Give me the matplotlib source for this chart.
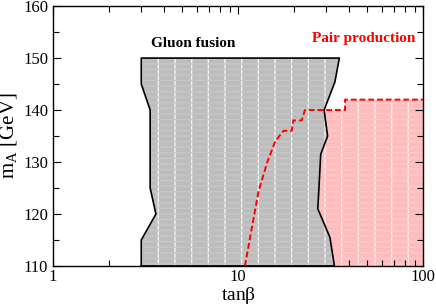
import matplotlib
matplotlib.use("Agg")
from matplotlib import pyplot as plt
from matplotlib.ticker import LogLocator, NullFormatter, MultipleLocator, FixedLocator, FixedFormatter

plt.rcParams['font.family'] = ['Liberation Serif', 'DejaVu Serif']
plt.rcParams['hatch.linewidth'] = 1.0

# gluon fusion region (left and right edges, bottom to top / top to bottom)
gluon_left_tb = [3.0, 3.0, 3.6, 3.35, 3.35, 3.0, 3.0]
gluon_left_m = [110, 115, 120, 125, 140, 145, 150]
gluon_right_tb = [35.3, 33.4, 29.2, 30.5, 28.0, 27.0, 31.4, 33.2]
gluon_right_m = [150, 145.4, 140, 135, 131.5, 121, 115.5, 110]

# pair production boundary (dashed)
pair_tb = [10.9, 12.9, 14.4, 15.9, 17.6, 19.5, 19.9, 22.1, 23.0, 37.9, 37.9, 100]
pair_m = [110, 124.3, 130, 134, 136, 136, 138, 138, 140, 140, 142, 142]

xticks = [1, 10, 100]
xticklabels = ['1', '10', '100']

fig = plt.figure(figsize=(4.36, 3.05), dpi=100)
ax = fig.add_axes([0.1216, 0.128, 0.8486, 0.852])

# pair production area (under the gluon one)
px = pair_tb + [100, pair_tb[0]]
py = pair_m + [110, 110]
ax.fill(px, py, facecolor='#ffbcbc', edgecolor='#fff0f0', hatch='|', linewidth=0, zorder=1)
ax.fill(px, py, facecolor='none', edgecolor='#ffc8c8', hatch='---', linewidth=0, zorder=1)

# gluon fusion area
gx = gluon_left_tb + gluon_right_tb
gy = gluon_left_m + gluon_right_m
ax.fill(gx, gy, facecolor='#bdbdbd', edgecolor='#f4f4f4', hatch='|', linewidth=0, zorder=2)
ax.fill(gx, gy, facecolor='none', edgecolor='#c7c7c7', hatch='---', linewidth=0, zorder=2)
ax.plot(gx + [gx[0]], gy + [gy[0]], color='black', lw=1.2, zorder=3)

ax.plot(pair_tb, pair_m, color='red', lw=1.4, dashes=(3, 1.5), zorder=4)

ax.text(5.75, 152.8, 'Gluon fusion', fontsize=11, fontweight='bold', color='black',
        ha='center', va='center')
ax.text(48, 153.8, 'Pair production', fontsize=11, fontweight='bold', color='red',
        ha='center', va='center')

ax.set_xscale('log')
ax.set_xlim(1, 100)
ax.set_ylim(110, 160)
ax.xaxis.set_major_locator(FixedLocator(xticks))
ax.xaxis.set_major_formatter(FixedFormatter(xticklabels))
ax.xaxis.set_minor_locator(LogLocator(base=10, subs=range(2, 10)))
ax.xaxis.set_minor_formatter(NullFormatter())
ax.yaxis.set_major_locator(MultipleLocator(10))
ax.yaxis.set_minor_locator(MultipleLocator(5))
ax.tick_params(which='both', direction='in', top=True, right=True, labelsize=12, width=0.8, zorder=5)
ax.tick_params(which='major', length=6)
ax.tick_params(which='minor', length=4.5)
ax.tick_params(axis='x', which='major', pad=2.5)
for s in ax.spines.values():
    s.set_linewidth(1.0)
    s.set_zorder(6)

ax.set_xlabel(r'tan$\mathregular{\beta}$', fontsize=14, labelpad=-0.5)
ax.set_ylabel(r'm$_\mathregular{A}$ [GeV]', fontsize=15, labelpad=2)

fig.savefig('out.png', dpi=100)
